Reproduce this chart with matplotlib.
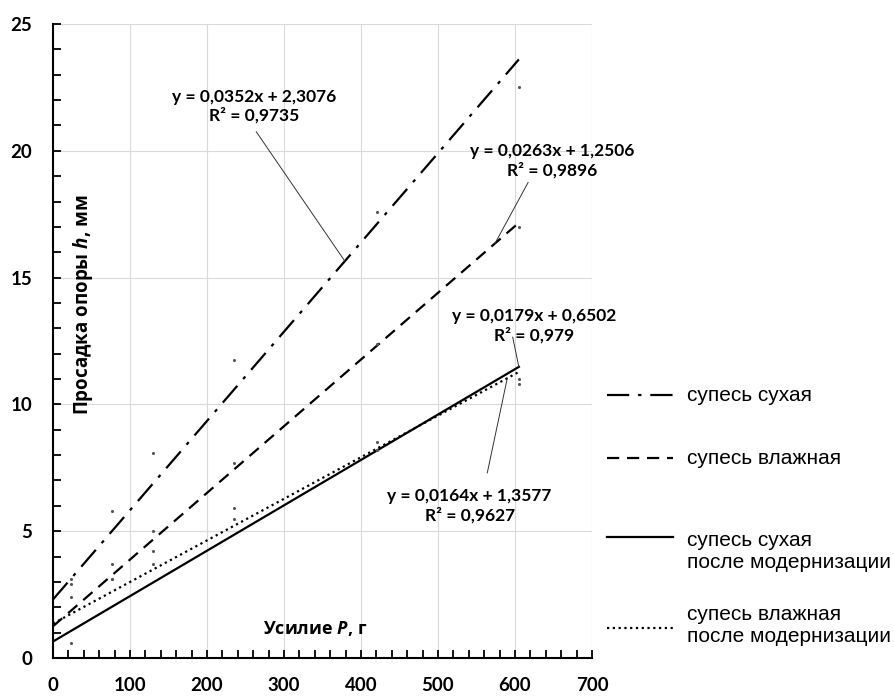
import numpy as np
import matplotlib
matplotlib.use("Agg")
import matplotlib.pyplot as plt
from matplotlib.lines import Line2D

plt.rcParams["font.family"] = ["Lato", "Noto Sans", "DejaVu Sans"]
plt.rcParams["font.weight"] = "bold"
plt.rcParams["mathtext.fontset"] = "custom"
plt.rcParams["mathtext.it"] = "Open Sans:italic:bold"
plt.rcParams["mathtext.rm"] = "Open Sans:bold"

# load P, g
P = [23, 77, 130, 235, 421, 605]

# settlement h, mm (scatter points)
h_dry = [3.1, 5.8, 8.1, 11.75, 17.6, 22.5]
h_wet = [2.4, 3.7, 5.0, 7.7, 12.4, 17.0]
h_dry_mod = [0.6, 3.1, 3.7, 5.5, 8.2, 10.8]
h_wet_mod = [2.9, 3.1, 4.2, 5.9, 8.5, 11.0]

# linear trend lines as printed on the chart
slopes = [0.0352, 0.0263, 0.0179, 0.0164]
intercepts = [2.3076, 1.2506, 0.6502, 1.3577]
r2 = ["0,9735", "0,9896", "0,979", "0,9627"]

labels = ["супесь сухая", "супесь влажная",
          "супесь сухая\nпосле модернизации",
          "супесь влажная\nпосле модернизации"]
styles = [(0, (10, 4, 1.5, 4)), (0, (5.5, 3.5)), "-", (0, (1, 1.6))]

fig = plt.figure(figsize=(8.95, 6.97), dpi=100, facecolor="white")
ax = fig.add_axes([53 / 895, 1 - 658 / 697, 539 / 895, 634 / 697])

series = [h_dry, h_wet, h_dry_mod, h_wet_mod]
xs = np.array([0, max(P)])
for h, k, b, ls in zip(series, slopes, intercepts, styles):
    ax.scatter(P, h, s=5, color="#555555", zorder=3, linewidths=0)
    ax.plot(xs, k * xs + b, color="black", lw=1.6, linestyle=ls, zorder=2)

ax.set_xlim(0, 700)
ax.set_ylim(0, 25)
ax.set_xticks(np.arange(0, 701, 100))
ax.set_yticks(np.arange(0, 26, 5))
ax.set_xticks(np.arange(0, 701, 20), minor=True)
ax.set_yticks(np.arange(0, 26, 1), minor=True)
ax.grid(True, which="major", color="#d9d9d9", lw=0.8)
ax.set_axisbelow(True)
for s in ["top", "right"]:
    ax.spines[s].set_visible(False)
for s in ["left", "bottom"]:
    ax.spines[s].set_linewidth(1.5)
ax.tick_params(which="both", direction="in", length=6, width=1.3)
ax.tick_params(axis="x", which="major", pad=14, labelsize=13.5)
ax.tick_params(axis="y", which="major", pad=15, labelsize=13.5)

lab_font = ["Open Sans", "DejaVu Sans"]
ax.text(341, 1.15, "Усилие $P$, г", fontsize=13, family=lab_font,
        ha="center", va="center")
ax.text(0.056, 0.557, "Просадка опоры $h$, мм", transform=ax.transAxes,
        rotation=90, fontsize=13.5, family=lab_font, ha="center", va="center")

# trend equations with leader lines
ann_text = [(261, 21.75), (648, 19.6), (625, 13.1), (541, 6.0)]
ann_line = [((264, 20.75), (379, None)), ((617, 18.75), (574, None)),
            ((597, 12.65), (605, None)), ((564, 7.3), (590, None))]
for i in range(4):
    k, b = slopes[i], intercepts[i]
    txt = f"y = {str(k).replace('.', ',')}x + {str(b).replace('.', ',')}\nR² = {r2[i]}"
    ax.text(*ann_text[i], txt, fontsize=12.5, ha="center", va="center",
            linespacing=1.2)
    (x0, y0), (x1, _) = ann_line[i]
    ax.plot([x0, x1], [y0, k * x1 + b], color="#333333", lw=0.7)

# legend, placed by hand (entries are spaced unevenly in the original)
leg_font = {"family": ["Liberation Sans", "DejaVu Sans"], "size": 15,
            "weight": "normal"}
handle_y = [395, 458, 537, 628]
text_y = [395, 458, 551, 625]
for ls, lab, hy, ty in zip(styles, labels, handle_y, text_y):
    fig.add_artist(Line2D([607 / 895, 673 / 895], [1 - hy / 697] * 2,
                          color="black", lw=1.6, linestyle=ls))
    fig.text(687 / 895, 1 - ty / 697, lab, ha="left", va="center",
             linespacing=1.2, **leg_font)

fig.savefig("out.png", dpi=100, facecolor="white")
